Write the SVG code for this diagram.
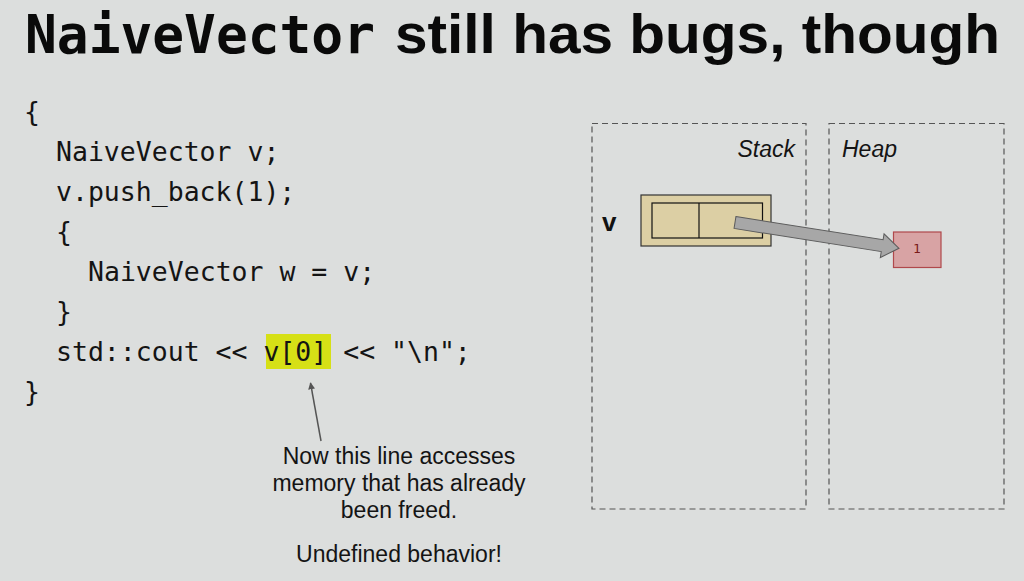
<svg xmlns="http://www.w3.org/2000/svg" width="1024" height="581" viewBox="0 0 1024 581">
<defs>
<style>
.code{font-family:"DejaVu Sans Mono","Liberation Mono",monospace;font-size:26.5px;fill:#141414}
.note{font-family:"Liberation Sans",Arial,sans-serif;font-size:23px;fill:#141414;text-anchor:middle}
.lbl{font-family:"Liberation Sans",Arial,sans-serif;font-size:23px;font-style:italic;fill:#141414}
.region{fill:none;stroke:#555;stroke-width:1.2;stroke-dasharray:6,4}
</style>
<marker id="ah" viewBox="0 0 10 10" refX="9" refY="5" markerWidth="7" markerHeight="8" orient="auto" markerUnits="userSpaceOnUse">
<path d="M0,0 L10,5 L0,10 z" fill="#555"/>
</marker>
</defs>
<rect width="1024" height="581" fill="#dcdedd"/>
<g id="title">
<text x="25" y="53" font-family="DejaVu Sans Mono,monospace" font-weight="bold" font-size="53" textLength="350" lengthAdjust="spacingAndGlyphs" fill="#0a0a0a">NaiveVector</text>
<text x="395" y="53" font-family="Liberation Sans,Arial,sans-serif" font-weight="bold" font-size="55" textLength="605" lengthAdjust="spacingAndGlyphs" fill="#0a0a0a">still has bugs, though</text>
</g>
<g id="code">
<rect x="266" y="334" width="65" height="35" fill="#d6e016"/>
<text class="code" x="24" y="121">{</text>
<text class="code" x="56" y="161">NaiveVector v;</text>
<text class="code" x="56" y="201">v.push_back(1);</text>
<text class="code" x="56" y="241">{</text>
<text class="code" x="88" y="281">NaiveVector w = v;</text>
<text class="code" x="56" y="321">}</text>
<text class="code" x="56" y="361">std::cout &lt;&lt; v[0] &lt;&lt; "\n";</text>
<text class="code" x="24" y="401">}</text>
</g>
<g id="stack">
<rect class="region" x="592" y="123.5" width="214" height="385.5"/>
<text class="lbl" x="795" y="157" text-anchor="end">Stack</text>
</g>
<g id="heap">
<rect class="region" x="829" y="123.5" width="175" height="385.5"/>
<text class="lbl" x="842" y="157">Heap</text>
</g>
<g id="vbox">
<text x="602" y="231" font-family="Liberation Sans,Arial,sans-serif" font-weight="bold" font-size="26" fill="#111">v</text>
<rect x="641" y="195" width="130" height="51" fill="#dccfa4" stroke="#333" stroke-width="1.2"/>
<rect x="652" y="203" width="110.5" height="35" fill="#dccfa4" stroke="#111" stroke-width="1.2"/>
<line x1="699" y1="203" x2="699" y2="238" stroke="#111" stroke-width="1.2"/>
</g>
<g id="heapcell">
<rect x="893.5" y="232" width="47.5" height="35.5" fill="#d8a3a4" stroke="#b0484c" stroke-width="1.2"/>
<text x="917" y="253" font-family="DejaVu Sans Mono,monospace" font-size="13" fill="#7a1a1a" text-anchor="middle">1</text>
</g>
<g id="connectors">
<polygon transform="translate(735,222.5) rotate(8.94)" points="0,-6 149,-6 149,-12 166,0 149,12 149,6 0,6" fill="#a7a7a7" stroke="#5c5c5c" stroke-width="1"/>
<line x1="321" y1="441" x2="310.5" y2="383" stroke="#555" stroke-width="1.5" marker-end="url(#ah)"/>
</g>
<g id="annotation">
<text class="note" x="399" y="464">Now this line accesses</text>
<text class="note" x="399" y="491">memory that has already</text>
<text class="note" x="399" y="518">been freed.</text>
<text class="note" x="399" y="562">Undefined behavior!</text>
</g>
</svg>
